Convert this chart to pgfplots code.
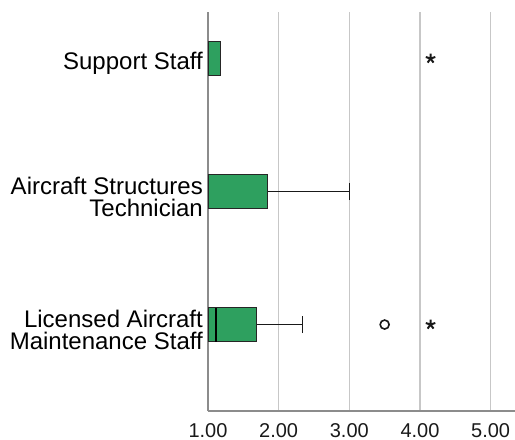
\documentclass[border=0pt]{standalone}
\usepackage{fontspec}
\setmainfont{Liberation Sans}
\usepackage{pgfplots}
\pgfplotsset{compat=1.18}
\usepgfplotslibrary{statistics}
\definecolor{boxgreen}{HTML}{2EA05F}

\begin{document}
\begin{tikzpicture}
\begin{axis}[
    scale only axis,
    width=307bp, height=399bp,
    xmin=1, xmax=5.345,
    ymin=0.35, ymax=3.35,
    axis x line*=bottom, axis y line*=left,
    axis line style={draw=black!45, line width=1.3bp},
    xtick={1,2,3,4,5},
    ytick={1,2,3},
    yticklabels={{Licensed Aircraft\\Maintenance Staff},{Aircraft Structures\\Technician},{Support Staff}},
    major tick length=0pt,
    xmajorgrids,
    grid style={draw=black!22, line width=1.3bp},
    /pgf/number format/.cd, fixed, fixed zerofill, precision=2, assume math mode=true,
    /pgfplots/.cd,
    xticklabel style={font=\fontsize{20bp}{22bp}\selectfont, text=black!90, inner sep=0pt, yshift=-12bp},
    yticklabel style={font=\fontsize{24bp}{22bp}\selectfont, text=black, align=right, inner xsep=5bp, inner ysep=0pt, yshift=-5bp},
    boxplot/draw direction=x,
    boxplot/box extend=0.255,
    boxplot/whisker extend=0.13,
    boxplot/every box/.style={fill=boxgreen, draw=black!85, line width=0.9bp},
    boxplot/every whisker/.style={draw=black!90, line width=0.9bp},
]
% Licensed Aircraft Maintenance Staff
\addplot[boxplot prepared={draw position=1, lower whisker=1, lower quartile=1,
    median=1.11, upper quartile=1.68, upper whisker=2.33},
    boxplot/every median/.style={draw=black, line width=2.2bp}] coordinates {};
% Aircraft Structures Technician
\addplot[boxplot prepared={draw position=2, lower whisker=1, lower quartile=1,
    median=1, upper quartile=1.84, upper whisker=3.0},
    boxplot/every median/.style={draw=black!85, line width=0.9bp}] coordinates {};
% Support Staff
\addplot[boxplot prepared={draw position=3, lower whisker=1, lower quartile=1,
    median=1, upper quartile=1.17, upper whisker=1.17},
    boxplot/every median/.style={draw=black!85, line width=0.9bp}] coordinates {};
% outliers
\addplot[only marks, mark=o, mark size=4.5bp, mark options={draw=black!90, line width=1.6bp}]
    coordinates {(3.5,1)};
\addplot[only marks, mark=star, mark size=5bp, mark options={draw=black!90, line width=2bp}]
    coordinates {(4.15,1) (4.15,3)};
\end{axis}
\pgfresetboundingbox
\path ([xshift=-208bp,yshift=-29bp]current axis.south west) rectangle ([yshift=12bp]current axis.north east);
\end{tikzpicture}
\end{document}
